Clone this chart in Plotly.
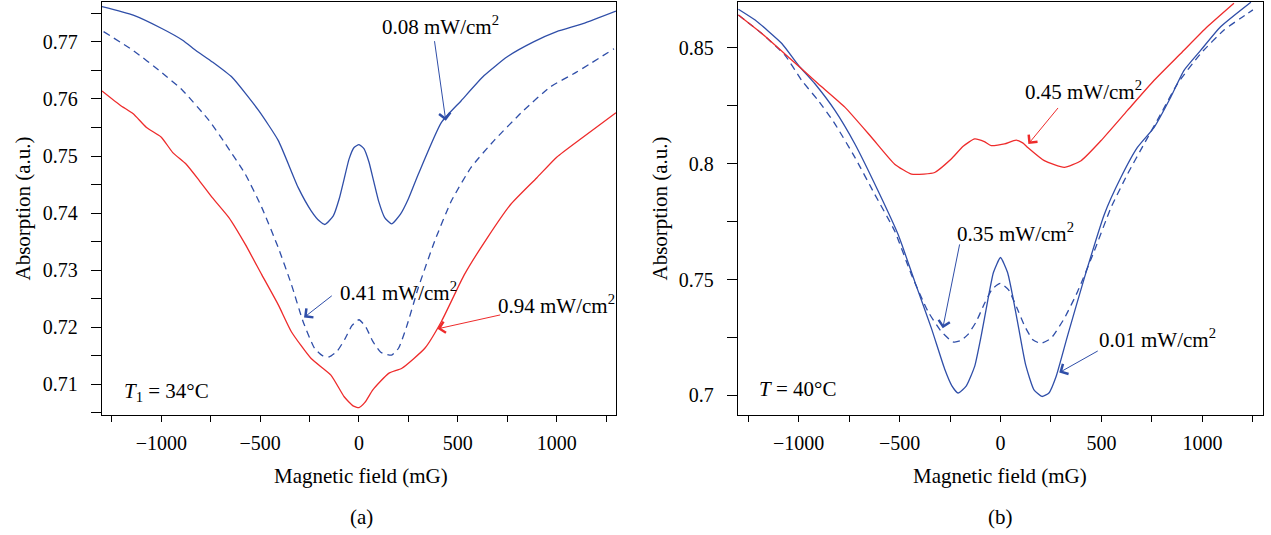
import plotly.graph_objects as go

# ---------------- Panel (a): T1 = 34 C ----------------
a_x_008 = [-1300, -1142, -1000, -892, -825, -742, -642, -508, -408, -308, -242, -200, -172, -130, -100, -75, -50,
           -25, 0, 25, 50, 75, 100, 130, 165, 210, 250, 300, 417, 517, 633, 750, 883, 1000, 1133, 1300]
a_y_008 = [0.7762, 0.7747, 0.7724, 0.7703, 0.7685, 0.7665, 0.7638, 0.7580, 0.7527, 0.7445, 0.7404, 0.7386, 0.7380,
           0.7395, 0.7425, 0.7460, 0.7495, 0.7515, 0.7520, 0.7513, 0.7490, 0.7455, 0.7420, 0.7392, 0.7381, 0.7398,
           0.7425, 0.7468, 0.7559, 0.7597, 0.7641, 0.7674, 0.7700, 0.7718, 0.7732, 0.7754]

a_x_041 = [-1292, -1142, -1000, -892, -758, -675, -575, -492, -408, -342, -283, -225, -185, -150, -110, -70, -35,
           0, 35, 70, 110, 165, 200, 240, 300, 383, 467, 567, 683, 833, 967, 1100, 1290]
a_y_041 = [0.7718, 0.7685, 0.7647, 0.7615, 0.7562, 0.7521, 0.7468, 0.7410, 0.7339, 0.7275, 0.7210, 0.7163, 0.7150,
           0.7148, 0.7158, 0.7180, 0.7203, 0.7213, 0.7200, 0.7175, 0.7156, 0.7151, 0.7163, 0.7200, 0.7269, 0.7351,
           0.7421, 0.7480, 0.7527, 0.7580, 0.7621, 0.7647, 0.7688]

a_x_094 = [-1300, -1208, -1142, -1075, -1000, -942, -875, -808, -742, -658, -575, -492, -408, -342, -242, -142,
           -75, -30, 0, 30, 70, 150, 217, 333, 417, 533, 650, 767, 900, 1000, 1133, 1300]
a_y_094 = [0.7614, 0.7589, 0.7574, 0.7550, 0.7533, 0.7506, 0.7486, 0.7457, 0.7427, 0.7392, 0.7345, 0.7292, 0.7239,
           0.7192, 0.7145, 0.7116, 0.7078, 0.7062, 0.7059, 0.7068, 0.7090, 0.7119, 0.7128, 0.7163, 0.7210, 0.7292,
           0.7357, 0.7415, 0.7462, 0.7498, 0.7533, 0.7576]

# ---------------- Panel (b): T = 40 C ----------------
b_x_001 = [-1298, -1215, -1083, -1001, -919, -820, -721, -606, -507, -425, -342, -277, -240, -210, -170, -128, -95,
           -63, -35, 0, 35, 60, 90, 125, 165, 205, 240, 275, 333, 415, 514, 596, 678, 761, 843, 909, 992, 1090, 1240]
b_y_001 = [0.8667, 0.8620, 0.8519, 0.8425, 0.8345, 0.8230, 0.8085, 0.7882, 0.7694, 0.7492, 0.7289, 0.7115, 0.7040,
           0.7010, 0.7040, 0.7125, 0.7260, 0.7410, 0.7530, 0.7595, 0.7530, 0.7430, 0.7290, 0.7130, 0.7025, 0.6995,
           0.7010, 0.7080, 0.7260, 0.7506, 0.7781, 0.7940, 0.8070, 0.8157, 0.8287, 0.8403, 0.8490, 0.8591, 0.8697]

b_x_035 = [-1298, -1182, -1067, -985, -903, -820, -721, -623, -524, -441, -359, -293, -236, -200, -162, -120, -80,
           -40, 0, 40, 80, 119, 160, 200, 250, 316, 382, 464, 547, 629, 711, 794, 876, 992, 1107, 1189, 1250]
b_y_035 = [0.8642, 0.8562, 0.8468, 0.8360, 0.8273, 0.8172, 0.8027, 0.7868, 0.7709, 0.7521, 0.7362, 0.7275, 0.7231,
           0.7235, 0.7262, 0.7318, 0.7395, 0.7460, 0.7483, 0.7455, 0.7380, 0.7300, 0.7240, 0.7224, 0.7246, 0.7332,
           0.7448, 0.7622, 0.7810, 0.7955, 0.8085, 0.8215, 0.8345, 0.8476, 0.8577, 0.8628, 0.8664]

b_x_045 = [-1298, -1182, -1051, -903, -771, -639, -524, -441, -380, -326, -244, -185, -128, -80, -46, 20, 77, 110,
           135, 217, 316, 399, 497, 629, 761, 893, 1024, 1156]
b_y_045 = [0.8642, 0.8562, 0.8461, 0.8345, 0.8244, 0.8114, 0.7998, 0.7955, 0.7955, 0.7962, 0.8020, 0.8075, 0.8107,
           0.8095, 0.8078, 0.8085, 0.8102, 0.8090, 0.8070, 0.8013, 0.7984, 0.8013, 0.8099, 0.8230, 0.8360, 0.8476,
           0.8591, 0.8693]

BLUE = '#2F4EA8'
RED = '#EE2B2B'
FONT = 'Liberation Serif'
LW = 1.3

fig = go.Figure()


def add(x, y, color, dash, xa, ya, name):
    fig.add_trace(go.Scatter(
        x=x, y=y, mode='lines', name=name, showlegend=False,
        line=dict(color=color, width=LW, dash=dash, shape='spline', smoothing=0.5),
        xaxis=xa, yaxis=ya, hoverinfo='skip'))


add(a_x_008, a_y_008, BLUE, 'solid', 'x', 'y', '0.08')
add(a_x_041, a_y_041, BLUE, '7px,5px', 'x', 'y', '0.41')
add(a_x_094, a_y_094, RED, 'solid', 'x', 'y', '0.94')
add(b_x_001, b_y_001, BLUE, 'solid', 'x2', 'y2', '0.01')
add(b_x_035, b_y_035, BLUE, '7px,5px', 'x2', 'y2', '0.35')
add(b_x_045, b_y_045, RED, 'solid', 'x2', 'y2', '0.45')

tickfont = dict(family=FONT, size=20, color='black')
common_x = dict(range=[-1300, 1300], tick0=0, dtick=500, ticks='outside', ticklen=6, tickwidth=1.2,
                tickcolor='black', showline=True, linecolor='black', linewidth=1.3, mirror=True,
                showgrid=False, zeroline=False, tickfont=tickfont, ticklabelstandoff=4,
                minor=dict(tick0=0, dtick=250, ticks='outside', ticklen=6, tickwidth=1.2, tickcolor='black'))
common_y = dict(ticks='outside', ticklen=10, tickwidth=1.2, tickcolor='black', showline=True,
                linecolor='black', linewidth=1.3, mirror=True, showgrid=False, zeroline=False,
                tickfont=tickfont, ticklabelstandoff=9)

fig.update_layout(
    width=1271, height=535,
    margin=dict(l=102, r=8, t=2, b=120),
    paper_bgcolor='white', plot_bgcolor='white',
    xaxis=dict(domain=[0, 0.4427], anchor='y', **common_x),
    yaxis=dict(domain=[0, 1], anchor='x', range=[0.7046, 0.777], tick0=0.71, dtick=0.01,
               minor=dict(tick0=0.705, dtick=0.005, ticks='outside', ticklen=10, tickwidth=1.2,
                          tickcolor='black'), **common_y),
    xaxis2=dict(domain=[0.5478, 1], anchor='y2', **common_x),
    yaxis2=dict(domain=[0, 1], anchor='x2', range=[0.6915, 0.8698], tick0=0.7, dtick=0.05,
                minor=dict(tick0=0.7, dtick=0.025, ticks='outside', ticklen=10, tickwidth=1.2,
                           tickcolor='black'), **common_y),
)

tfont = dict(family=FONT, size=21, color='black')
afont = dict(family=FONT, size=21, color='black')
ann = []
# axis titles and panel labels
for xc, lab in [(0.2231, '(a)'), (0.7735, '(b)')]:
    ann.append(dict(xref='paper', yref='paper', x=xc, y=-0.1477, text='Magnetic field (mG)',
                    showarrow=False, font=tfont, xanchor='center', yanchor='middle'))
    ann.append(dict(xref='paper', yref='paper', x=xc, y=-0.247, text=lab,
                    showarrow=False, font=tfont, xanchor='center', yanchor='middle'))
for xc in [-0.0689, 0.4806]:
    ann.append(dict(xref='paper', yref='paper', x=xc, y=0.5, text='Absorption (a.u.)', textangle=-90,
                    showarrow=False, font=tfont, xanchor='center', yanchor='middle'))

# temperature labels
ann.append(dict(xref='x', yref='y', x=-1200, y=0.7087, text='<i>T</i><sub>1</sub> = 34°C',
                showarrow=False, font=afont, xanchor='left', yanchor='middle'))
ann.append(dict(xref='x2', yref='y2', x=-1207, y=0.7029, text='<i>T</i> = 40°C',
                showarrow=False, font=afont, xanchor='left', yanchor='middle'))

# power labels: (axis suffix, text pos, tail, head, color)
labels = [
    ('', (410, 0.7729), (381, 0.7704), (439, 0.7562), BLUE, '0.08'),
    ('', (202, 0.7263), (-130, 0.7257), (-278, 0.7217), BLUE, '0.41'),
    ('', (997, 0.7240), (722, 0.7222), (397, 0.7197), RED, '0.94'),
    ('2', (409, 0.8316), (291, 0.8247), (138, 0.8085), RED, '0.45'),
    ('2', (72, 0.7701), (-201, 0.7658), (-286, 0.7289), BLUE, '0.35'),
    ('2', (778, 0.7246), (489, 0.7195), (291, 0.7098), BLUE, '0.01'),
]
for sfx, tp, tail, head, col, val in labels:
    ann.append(dict(xref='x' + sfx, yref='y' + sfx, x=tp[0], y=tp[1],
                    text=f'{val} mW/cm<sup>2</sup>', showarrow=False, font=afont,
                    xanchor='center', yanchor='middle'))
    ann.append(dict(xref='x' + sfx, yref='y' + sfx, axref='x' + sfx, ayref='y' + sfx,
                    x=head[0], y=head[1], ax=tail[0], ay=tail[1], text='', showarrow=True,
                    arrowhead=4, arrowsize=2.2, arrowwidth=1, arrowcolor=col))

fig.update_layout(annotations=ann)
fig.write_html('out.html')
